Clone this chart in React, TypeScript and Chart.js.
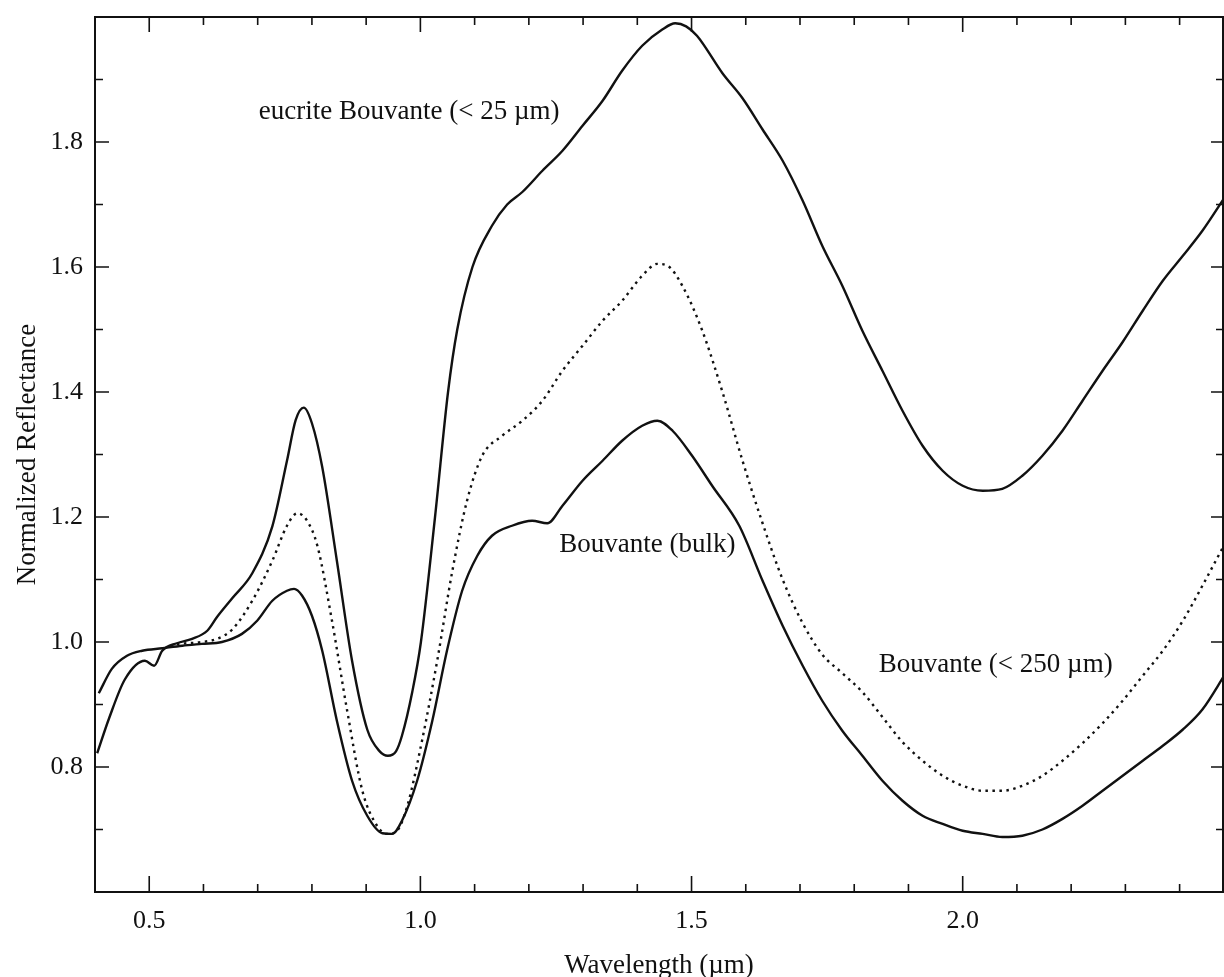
import React, { useEffect, useRef } from "react";
import { Chart, registerables } from "chart.js";

Chart.register(...registerables);

// ---- data (wavelength in µm, normalized reflectance) ----
const eucriteWl = [0.404, 0.426, 0.455, 0.492, 0.509, 0.524, 0.551, 0.579, 0.607, 0.625, 0.653, 0.690, 0.727, 0.754, 0.770, 0.785, 0.800, 0.819, 0.846, 0.874, 0.902, 0.925, 0.940, 0.955, 0.966, 0.985, 1.001, 1.027, 1.051, 1.068, 1.096, 1.132, 1.160, 1.188, 1.225, 1.262, 1.299, 1.336, 1.372, 1.409, 1.446, 1.470, 1.490, 1.510, 1.557, 1.594, 1.631, 1.668, 1.705, 1.741, 1.778, 1.815, 1.852, 1.889, 1.926, 1.963, 2.000, 2.037, 2.073, 2.110, 2.147, 2.184, 2.221, 2.258, 2.295, 2.332, 2.369, 2.406, 2.442, 2.485];
const eucriteR = [0.822, 0.878, 0.94, 0.97, 0.962, 0.986, 0.998, 1.005, 1.018, 1.04, 1.07, 1.11, 1.185, 1.29, 1.355, 1.375, 1.35, 1.28, 1.13, 0.97, 0.86, 0.825, 0.818, 0.825, 0.85, 0.92, 1.0, 1.2, 1.4, 1.5, 1.6, 1.666, 1.7, 1.72, 1.754, 1.786, 1.826, 1.866, 1.914, 1.954, 1.98, 1.99, 1.985, 1.97, 1.91, 1.87, 1.82, 1.77, 1.706, 1.634, 1.57, 1.498, 1.434, 1.37, 1.314, 1.274, 1.25, 1.242, 1.245, 1.266, 1.298, 1.338, 1.386, 1.434, 1.48, 1.53, 1.578, 1.618, 1.658, 1.714];

const bulkWl = [0.407, 0.431, 0.459, 0.487, 0.524, 0.561, 0.597, 0.634, 0.671, 0.699, 0.727, 0.754, 0.767, 0.782, 0.800, 0.819, 0.846, 0.874, 0.902, 0.930, 0.948, 0.966, 0.994, 1.022, 1.049, 1.077, 1.105, 1.132, 1.169, 1.206, 1.234, 1.262, 1.299, 1.336, 1.372, 1.409, 1.437, 1.465, 1.501, 1.538, 1.588, 1.631, 1.668, 1.705, 1.741, 1.778, 1.815, 1.852, 1.889, 1.926, 1.963, 2.000, 2.037, 2.073, 2.110, 2.147, 2.184, 2.221, 2.258, 2.295, 2.332, 2.369, 2.406, 2.442, 2.485];
const bulkR = [0.918, 0.957, 0.978, 0.986, 0.99, 0.994, 0.997, 1.0, 1.013, 1.034, 1.066, 1.082, 1.085, 1.074, 1.042, 0.986, 0.874, 0.778, 0.722, 0.694, 0.693, 0.714, 0.778, 0.874, 0.986, 1.082, 1.138, 1.17, 1.186, 1.194, 1.19, 1.218, 1.258, 1.29, 1.322, 1.346, 1.354, 1.338, 1.298, 1.25, 1.186, 1.098, 1.026, 0.962, 0.906, 0.858, 0.818, 0.778, 0.746, 0.722, 0.709, 0.698, 0.693, 0.688, 0.69, 0.70, 0.717, 0.738, 0.762, 0.786, 0.81, 0.834, 0.86, 0.892, 0.95];

const fineWl = [0.551, 0.597, 0.625, 0.653, 0.690, 0.727, 0.754, 0.773, 0.791, 0.810, 0.837, 0.865, 0.893, 0.920, 0.939, 0.957, 0.976, 1.003, 1.031, 1.059, 1.086, 1.114, 1.151, 1.188, 1.225, 1.262, 1.299, 1.336, 1.372, 1.409, 1.437, 1.456, 1.483, 1.519, 1.557, 1.594, 1.631, 1.668, 1.705, 1.741, 1.778, 1.815, 1.852, 1.889, 1.926, 1.963, 2.000, 2.037, 2.073, 2.110, 2.147, 2.184, 2.221, 2.258, 2.295, 2.332, 2.369, 2.406, 2.442, 2.485];
const fineR = [0.997, 1.0, 1.005, 1.02, 1.066, 1.13, 1.186, 1.206, 1.194, 1.154, 1.034, 0.89, 0.762, 0.706, 0.693, 0.698, 0.738, 0.842, 0.97, 1.114, 1.226, 1.298, 1.33, 1.354, 1.386, 1.434, 1.474, 1.514, 1.546, 1.586, 1.605, 1.602, 1.57, 1.50, 1.40, 1.29, 1.19, 1.10, 1.03, 0.98, 0.95, 0.92, 0.88, 0.84, 0.81, 0.786, 0.77, 0.762, 0.762, 0.77, 0.786, 0.81, 0.838, 0.87, 0.906, 0.946, 0.986, 1.034, 1.09, 1.16];

// ---- axes ----
const xTickLabels = [0.5, 1.0, 1.5, 2.0];
const yTickLabels = [0.8, 1.0, 1.2, 1.4, 1.6, 1.8];
const X_MIN = 0.4;
const X_MAX = 2.48;
const Y_MIN = 0.6;
const Y_MAX = 2.0;
const MINOR_STEP = 0.1;

// ---- curve labels (data coordinates) ----
const labelTexts = ["eucrite Bouvante (< 25 µm)", "Bouvante (bulk)", "Bouvante (< 250 µm)"];
const labelWl = [0.702, 1.256, 1.845];
const labelR = [1.848, 1.155, 0.963];

const FONT = '"Liberation Serif", "Times New Roman", serif';
const INK = "#111";

const zip = (xs: number[], ys: number[]) => xs.map((x, i) => ({ x, y: ys[i] }));

const framePlugin = {
  id: "frameTicks",
  afterDatasetsDraw(chart: any) {
    const { ctx, chartArea, scales } = chart;
    const { left, right, top, bottom } = chartArea;
    const xs = scales.x;
    const ys = scales.y;
    ctx.save();
    ctx.strokeStyle = INK;
    ctx.lineWidth = 2;
    ctx.strokeRect(left, top, right - left, bottom - top);
    ctx.lineWidth = 1.6;
    ctx.beginPath();
    const nX = Math.round((X_MAX - X_MIN) / MINOR_STEP);
    for (let i = 0; i <= nX; i++) {
      const v = X_MIN + i * MINOR_STEP;
      if (v <= X_MIN + 1e-6 || v >= X_MAX - 1e-6) continue;
      const major = xTickLabels.some((t) => Math.abs(t - v) < 1e-6);
      const px = xs.getPixelForValue(v);
      const lb = major ? 16 : 8;
      const lt = major ? 15 : 8;
      ctx.moveTo(px, bottom);
      ctx.lineTo(px, bottom - lb);
      ctx.moveTo(px, top);
      ctx.lineTo(px, top + lt);
    }
    const nY = Math.round((Y_MAX - Y_MIN) / MINOR_STEP);
    for (let i = 1; i < nY; i++) {
      const v = Y_MIN + i * MINOR_STEP;
      const major = yTickLabels.some((t) => Math.abs(t - v) < 1e-6);
      const py = ys.getPixelForValue(v);
      const ll = major ? 14 : 8;
      const lr = major ? 12 : 7;
      ctx.moveTo(left, py);
      ctx.lineTo(left + ll, py);
      ctx.moveTo(right, py);
      ctx.lineTo(right - lr, py);
    }
    ctx.stroke();

    ctx.fillStyle = INK;
    ctx.font = `27px ${FONT}`;
    ctx.textAlign = "left";
    ctx.textBaseline = "middle";
    labelTexts.forEach((t, i) => {
      ctx.fillText(t, xs.getPixelForValue(labelWl[i]), ys.getPixelForValue(labelR[i]));
    });
    ctx.restore();
  },
};

export default function App() {
  const ref = useRef<HTMLCanvasElement | null>(null);
  useEffect(() => {
    if (!ref.current) return;
    const lineBase = {
      borderColor: INK,
      backgroundColor: INK,
      borderWidth: 2.4,
      pointRadius: 0,
      fill: false,
      cubicInterpolationMode: "monotone" as const,
    };
    const chart = new Chart(ref.current, {
      type: "line",
      data: {
        datasets: [
          { ...lineBase, label: "eucrite Bouvante (< 25 µm)", data: zip(eucriteWl, eucriteR) },
          { ...lineBase, label: "Bouvante (bulk)", data: zip(bulkWl, bulkR) },
          { ...lineBase, label: "Bouvante (< 250 µm)", data: zip(fineWl, fineR), borderDash: [2.5, 4.5], borderWidth: 2.4 },
        ],
      },
      options: {
        animation: false,
        responsive: false,
        events: [],
        layout: { padding: { left: 0, top: 17, right: 1, bottom: 0 } },
        plugins: { legend: { display: false }, tooltip: { enabled: false }, title: { display: false } },
        scales: {
          x: {
            type: "linear",
            min: X_MIN,
            max: X_MAX,
            afterBuildTicks: (s: any) => {
              s.ticks = xTickLabels.map((v) => ({ value: v }));
            },
            afterFit: (s: any) => {
              s.height = 85;
              s.paddingLeft = 0;
              s.paddingRight = 0;
            },
            grid: { display: false, drawTicks: false },
            border: { display: false },
            ticks: {
              color: INK,
              font: { family: FONT, size: 26 },
              padding: 14,
              maxRotation: 0,
              autoSkip: false,
              callback: (v: any) => Number(v).toFixed(1),
            },
            title: {
              display: true,
              text: "Wavelength (µm)",
              color: INK,
              font: { family: FONT, size: 27, lineHeight: 0.8 },
              padding: { top: 0, bottom: 0 },
            },
          },
          y: {
            type: "linear",
            min: Y_MIN,
            max: Y_MAX,
            afterBuildTicks: (s: any) => {
              s.ticks = yTickLabels.map((v) => ({ value: v }));
            },
            afterFit: (s: any) => {
              s.width = 95;
              s.paddingTop = 0;
              s.paddingBottom = 0;
            },
            grid: { display: false, drawTicks: false },
            border: { display: false },
            ticks: {
              color: INK,
              font: { family: FONT, size: 26 },
              padding: 12,
              autoSkip: false,
              callback: (v: any) => Number(v).toFixed(1),
            },
            title: {
              display: true,
              text: "Normalized Reflectance",
              color: INK,
              font: { family: FONT, size: 27, lineHeight: 1 },
              padding: { top: 14, bottom: 0 },
            },
          },
        },
      },
      plugins: [framePlugin],
    });
    return () => chart.destroy();
  }, []);
  return (
    <div style={{ position: "absolute", left: 0, top: 0, width: 1224, height: 977, background: "#fff" }}>
      <canvas ref={ref} width={1224} height={977} style={{ display: "block" }} />
    </div>
  );
}
